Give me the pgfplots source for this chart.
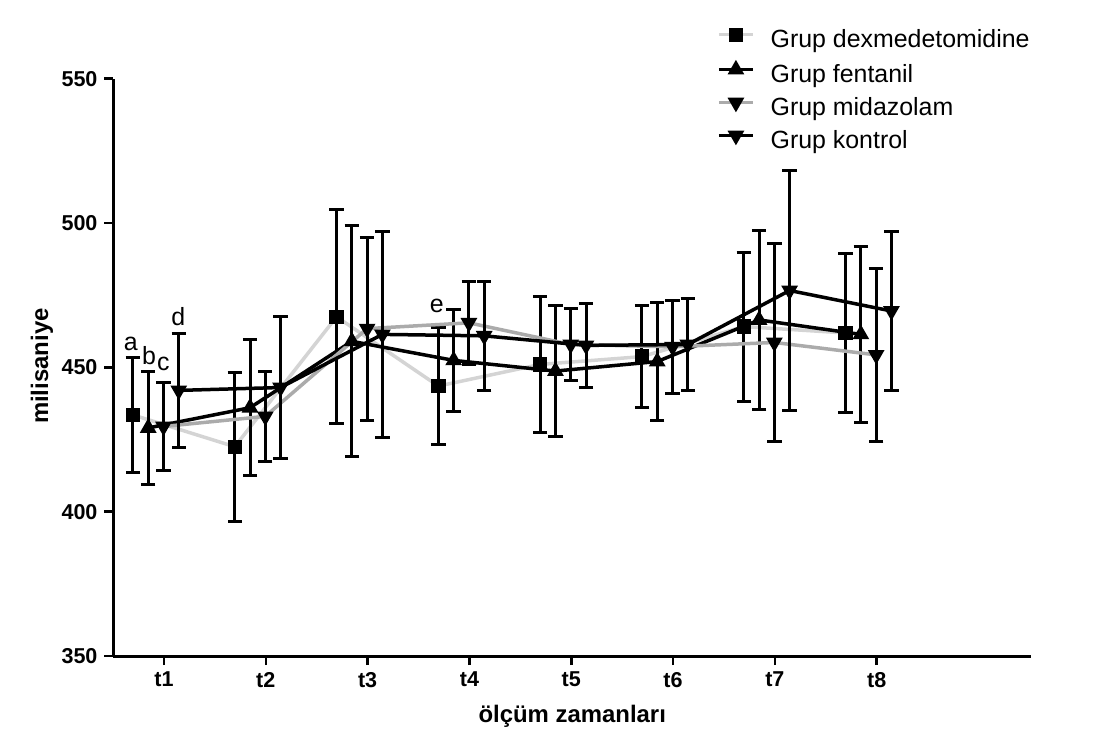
\documentclass[border=0pt]{standalone}
\usepackage{fontspec}
\setmainfont{Liberation Sans}
\usepackage{pgfplots}
\pgfplotsset{compat=1.18}
\definecolor{acik}{HTML}{D4D4D4}
\definecolor{orta}{HTML}{ABABAB}

\pgfplotstableread{
x     y      e
0.695 433.5  20.0
1.695 422.5  25.8
2.695 467.5  37.0
3.695 443.5  20.2
4.695 451.0  23.5
5.695 453.7  17.6
6.695 464.1  25.8
7.695 461.9  27.6
}\dex
\pgfplotstableread{
x     y      e
0.845 429.0  19.6
1.845 436.0  23.5
2.845 459.0  40.0
3.845 452.4  17.6
4.845 448.7  22.6
5.845 452.0  20.6
6.845 466.4  31.0
7.845 461.4  30.4
}\fen
\pgfplotstableread{
x     y      e
0.995 429.5  15.3
1.995 433.0  15.5
2.995 463.4  31.7
3.995 465.4  14.4
4.995 457.9  12.3
5.995 457.1  16.2
6.995 458.6  34.4
7.995 454.3  30.0
}\mid
\pgfplotstableread{
x     y      e
1.145 442.0  19.7
2.145 443.0  24.6
3.145 461.4  35.8
4.145 460.9  18.8
5.145 457.6  14.6
6.145 457.9  15.8
7.145 476.6  41.7
8.145 469.5  27.5
}\kon

\begin{document}
\begin{tikzpicture}
\begin{axis}[
  name=ax,
  width=458.75bp, height=288.7bp, scale only axis,
  xmin=0.504, xmax=9.516, ymin=350, ymax=550,
  axis x line*=bottom, axis y line*=left,
  axis line style={line width=1.5bp, black},
  xtick={1,...,8}, xticklabels={t1,t2,t3,t4,t5,t6,t7,t8},
  ytick={350,400,450,500,550},
  tick align=outside, major tick length=4.5bp,
  tick style={line width=1.3bp, black},
  tick label style={font=\fontsize{10.8}{12}\selectfont\bfseries},
  /pgf/number format/assume math mode=true,
  xlabel={ölçüm zamanları}, ylabel={milisaniye},
  label style={font=\fontsize{12}{14}\selectfont\bfseries},
  xlabel style={at={(axis description cs:0.5,-0.104)}, anchor=center},
  ylabel style={at={(axis description cs:-0.078,0.502)}, anchor=center, rotate=0},
  error bars/error bar style={line width=1.5bp, black, solid},
  error bars/error mark options={rotate=90, mark size=3.6bp, line width=1.5bp, black},
  legend style={at={(0.651,1.093)}, anchor=north west, draw=none, fill=none,
    font=\fontsize{12.5}{14}\selectfont, row sep=5bp,
    nodes={inner sep=0pt, text height=8.5bp, text depth=3bp},
    /tikz/every odd column/.append style={column sep=8bp}},
  legend cell align=left,
  legend image code/.code={
    \draw[mark repeat=2, mark phase=2, #1]
      plot coordinates {(0bp,3.6bp) (8.5bp,3.6bp) (17bp,3.6bp)};},
  clip=false,
]
\addplot[acik, line width=1.75bp, mark=square*,
  mark options={black, solid, mark size=2.7bp},
  error bars/.cd, y dir=both, y explicit]
  table[x=x, y=y, y error=e] {\dex};
\addlegendentry{Grup dexmedetomidine}
\addplot[black, line width=1.75bp, mark=triangle*,
  mark options={black, solid, mark size=3.1bp},
  error bars/.cd, y dir=both, y explicit]
  table[x=x, y=y, y error=e] {\fen};
\addlegendentry{Grup fentanil}
\addplot[orta, line width=1.75bp, mark=triangle*,
  mark options={black, solid, mark size=3.1bp, rotate=180},
  error bars/.cd, y dir=both, y explicit]
  table[x=x, y=y, y error=e] {\mid};
\addlegendentry{Grup midazolam}
\addplot[black, line width=1.75bp, mark=triangle*,
  mark options={black, solid, mark size=3.1bp, rotate=180},
  error bars/.cd, y dir=both, y explicit]
  table[x=x, y=y, y error=e] {\kon};
\addlegendentry{Grup kontrol}

\node[font=\fontsize{12.5}{14}\selectfont] at (axis cs:0.673,458) {a};
\node[font=\fontsize{12.5}{14}\selectfont] at (axis cs:0.853,454) {b};
\node[font=\fontsize{12.5}{14}\selectfont] at (axis cs:0.993,451) {c};
\node[font=\fontsize{12.5}{14}\selectfont] at (axis cs:1.14,467.5) {d};
\node[font=\fontsize{12.5}{14}\selectfont] at (axis cs:3.679,471.3) {e};
\end{axis}
\pgfresetboundingbox
\path[use as bounding box] ([xshift=-56.75bp, yshift=-42bp]ax.south west)
  rectangle ++(550bp, 370bp);
\end{tikzpicture}
\end{document}
